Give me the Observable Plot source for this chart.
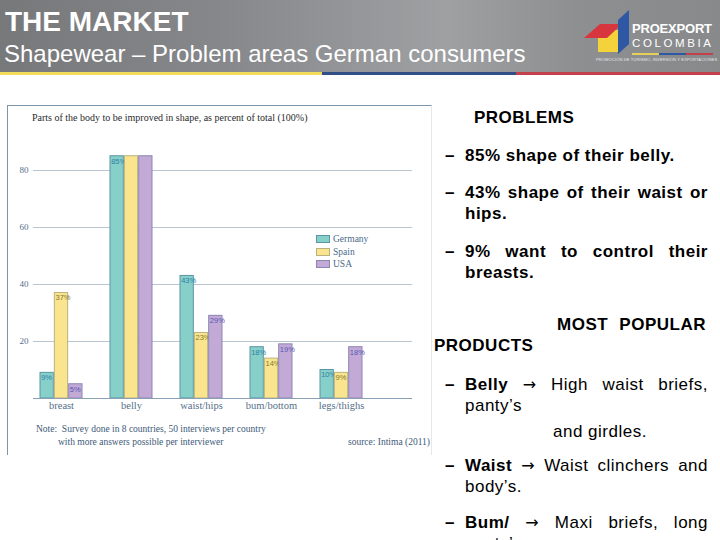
<!DOCTYPE html>
<html>
<head>
<meta charset="utf-8">
<script src="https://cdn.jsdelivr.net/npm/d3@7"></script>
<script src="https://cdn.jsdelivr.net/npm/@observablehq/plot@0.6"></script>
<style>
  html, body { margin:0; padding:0; background:#fff; }
  #page { position:relative; width:720px; height:540px; overflow:hidden; background:#fff; font-family:"Liberation Sans", Arial, sans-serif; }
  #header { position:absolute; left:0; top:0; width:720px; height:72px;
    background:linear-gradient(90deg,#77787a 0%,#86878a 30%,#9fa0a2 62%,#8e8f91 80%,#88898b 100%); }
  .stripe { position:absolute; top:72px; height:3px; }
  .htitle { position:absolute; color:#fff; white-space:nowrap; }
  #chartbox { position:absolute; left:7px; top:105px; width:425px; height:350px; background:#fff;
    border-left:1.5px solid #7d95a8; border-top:1.5px solid #7d95a8; border-right:1px solid #e4e8ec; box-sizing:border-box; }
  #chart { position:absolute; left:7px; top:105px; }
  .serif { font-family:"Liberation Serif", "DejaVu Serif", serif; }
  .ctext { position:absolute; white-space:nowrap; }
  .sw { position:absolute; width:14px; height:8px; box-sizing:border-box; }
  .rt { position:absolute; font-size:17px; line-height:20px; color:#000; white-space:nowrap; letter-spacing:0.5px; }
  .b { font-weight:bold; }
  .ar { font-family:"DejaVu Sans", sans-serif; font-weight:normal; font-size:16px; }
  .just { left:465px; width:243px; text-align:justify; text-align-last:justify; }
  .logo { position:absolute; color:#fff; white-space:nowrap; }
</style>
</head>
<body>
<div id="page">
  <div id="header"></div>
  <div class="stripe" style="left:0;width:322px;background:#f3dc5c"></div>
  <div class="stripe" style="left:322px;width:194px;background:#2f4f86"></div>
  <div class="stripe" style="left:516px;width:204px;background:#c2404c"></div>
  <div class="htitle b" style="left:5px;top:6px;font-size:28px;line-height:32px;">THE MARKET</div>
  <div class="htitle" style="left:4px;top:40px;font-size:24px;line-height:28px;">Shapewear – Problem areas German consumers</div>

  <svg style="position:absolute;left:578px;top:6px" width="60" height="50" viewBox="0 0 60 50">
    <polygon points="20,24 40,24 40,46 20,46" fill="#f4d23c"/>
    <polygon points="6,32 22,18 44,18 29,32" fill="#d8363f"/>
    <polygon points="40,14 51,4 51,38 40,48" fill="#2e57a4"/>
  </svg>
  <div class="logo b" style="left:632px;top:21px;font-size:13px;line-height:15px;letter-spacing:-0.2px;">PROEXPORT</div>
  <div class="logo" style="left:632px;top:37px;font-size:11.5px;line-height:13px;letter-spacing:2.6px;">COLOMBIA</div>
  <div style="position:absolute;left:632px;top:53px;width:27px;height:1.5px;background:#e6cf5a"></div>
  <div style="position:absolute;left:659px;top:53px;width:27px;height:1.5px;background:#2e57a4"></div>
  <div style="position:absolute;left:686px;top:53px;width:27px;height:1.5px;background:#c2404c"></div>
  <div class="logo" style="left:596px;top:57px;font-size:4px;line-height:5px;color:#e8e8e8;letter-spacing:0.15px;">PROMOCIÓN DE TURISMO, INVERSIÓN Y EXPORTACIONES</div>

  <div id="chartbox"></div>
  <div id="chart"></div>
  <div class="ctext serif" style="left:32px;top:111px;font-size:10px;line-height:14px;color:#2b2b2b;">Parts of the body to be improved in shape, as percent of total (100%)</div>
  <div id="legend"></div>
  <div class="ctext serif" style="left:36px;top:423px;font-size:9.5px;line-height:12px;color:#3d5a78;">Note:&nbsp; Survey done in 8 countries, 50 interviews per country</div>
  <div class="ctext serif" style="left:58px;top:436px;font-size:9.5px;line-height:12px;color:#3d5a78;">with more answers possible per interviewer</div>
  <div class="ctext serif" style="left:348px;top:436px;font-size:9.5px;line-height:12px;color:#3d5a78;">source: Intima (2011)</div>

  <div class="rt b" style="left:474px;top:108px;">PROBLEMS</div>
  <div class="rt b" style="left:445px;top:146px;">–</div>
  <div class="rt b" style="left:465px;top:146px;">85% shape of their belly.</div>
  <div class="rt b" style="left:445px;top:183px;">–</div>
  <div class="rt b just" style="top:183px;">43% shape of their waist or</div>
  <div class="rt b" style="left:465px;top:204px;">hips.</div>
  <div class="rt b" style="left:445px;top:242px;">–</div>
  <div class="rt b just" style="top:242px;">9% want to control their</div>
  <div class="rt b" style="left:465px;top:263px;">breasts.</div>
  <div class="rt b" style="left:557px;top:315px;word-spacing:6px;">MOST POPULAR</div>
  <div class="rt b" style="left:434px;top:336px;">PRODUCTS</div>
  <div class="rt b" style="left:445px;top:375px;">–</div>
  <div class="rt just" style="top:375px;"><span class="b">Belly</span> <span class="ar">→</span> High waist briefs,</div>
  <div class="rt" style="left:465px;top:396px;">panty’s</div>
  <div class="rt" style="left:553px;top:422px;">and girdles.</div>
  <div class="rt b" style="left:445px;top:456px;">–</div>
  <div class="rt just" style="top:456px;"><span class="b">Waist</span> <span class="ar">→</span> Waist clinchers and</div>
  <div class="rt" style="left:465px;top:477px;">body’s.</div>
  <div class="rt b" style="left:445px;top:513px;">–</div>
  <div class="rt just" style="top:513px;"><span class="b">Bum/</span> <span class="ar">→</span> Maxi briefs, long</div>
  <div class="rt" style="left:465px;top:534px;">pants’s</div>
</div>

<script>
// ---- data ----
const categories = ["breast", "belly", "waist/hips", "bum/bottom", "legs/thighs"];
const countries = ["Germany", "Spain", "USA"];
const germany = [9, 85, 43, 18, 10];
const spain   = [37, 85, 23, 14, 9];
const usa     = [5, 85, 29, 19, 18];
const germanyLabels = ["9%", "85%", "43%", "18%", "10%"];
const spainLabels   = ["37%", "", "23%", "14%", "9%"];
const usaLabels     = ["5%", "", "29%", "19%", "18%"];
const yTicks = [20, 40, 60, 80];

// ---- styles ----
const fills   = ["#86d0c9", "#fbe48e", "#c3aad6"];
const strokes = ["#5a95a6", "#b9b27e", "#8a86b4"];
const labelColors = ["#2f7fa6", "#7d7a2e", "#5656b0"];

const series = [germany, spain, usa];
const labels = [germanyLabels, spainLabels, usaLabels];

const W = 425, H = 350;
const xRange = [31, 357.6];
const padIn = 0.393;
const step = (xRange[1] - xRange[0]) / (categories.length - padIn);
const bw = step * (1 - padIn);
const w = bw / 3;

const marks = [
  Plot.gridY(yTicks, {stroke: "#b9c6d2", strokeOpacity: 1, strokeWidth: 1}),
  Plot.axisY(yTicks, {tickSize: 0, tickPadding: 5, fontSize: 9, fill: "#55708a", fontFamily: "Liberation Serif, serif", label: null}),
  Plot.axisX({tickSize: 0, tickPadding: 3, fontSize: 10.5, fill: "#55708a", fontFamily: "Liberation Serif, serif", label: null})
];
series.forEach((vals, k) => {
  const rows = categories.map((c, i) => ({category: c, value: vals[i], label: labels[k][i]}));
  marks.push(Plot.barY(rows, {
    x: "category", y: "value",
    fill: fills[k], stroke: strokes[k], strokeWidth: 1,
    insetLeft: k * w, insetRight: (2 - k) * w
  }));
  marks.push(Plot.text(rows.filter(d => d.label), {
    x: "category", y: "value", text: "label",
    dx: -bw / 2 + k * w + 1.2, dy: 2, textAnchor: "start", lineAnchor: "top",
    fill: labelColors[k], fontSize: 7.5, ariaLabel: "barlabel",
    fontFamily: "Liberation Sans, sans-serif"
  }));
});
marks.push(Plot.ruleY([0], {stroke: "#8aa0b4", strokeWidth: 1.2}));

const chart = Plot.plot({
  width: W, height: H,
  marginLeft: 26, marginRight: 20, marginTop: 20, marginBottom: 57,
  x: {domain: categories, range: xRange, paddingInner: padIn, paddingOuter: 0, axis: null},
  y: {domain: [0, 80], range: [293, 65], axis: null},
  style: {background: "transparent", overflow: "visible"},
  marks
});
// condense bar labels so they fit inside the narrow bars
chart.querySelectorAll('g[aria-label="barlabel"] text').forEach(t => {
  const n = t.textContent.length;
  t.setAttribute("textLength", n >= 3 ? 11.5 : 8);
  t.setAttribute("lengthAdjust", "spacingAndGlyphs");
});
document.getElementById("chart").appendChild(chart);

// legend
const leg = document.getElementById("legend");
countries.forEach((c, k) => {
  const top = [235, 248, 260][k];
  const sw = document.createElement("div");
  sw.className = "sw";
  sw.style.cssText = `left:316px;top:${top}px;background:${fills[k]};border:1px solid ${strokes[k]};`;
  leg.appendChild(sw);
  const t = document.createElement("div");
  t.className = "ctext serif";
  t.style.cssText = `left:333px;top:${top - 2}px;font-size:9.5px;line-height:12px;color:#4a6a8a;`;
  t.textContent = c;
  leg.appendChild(t);
});
</script>
</body>
</html>
